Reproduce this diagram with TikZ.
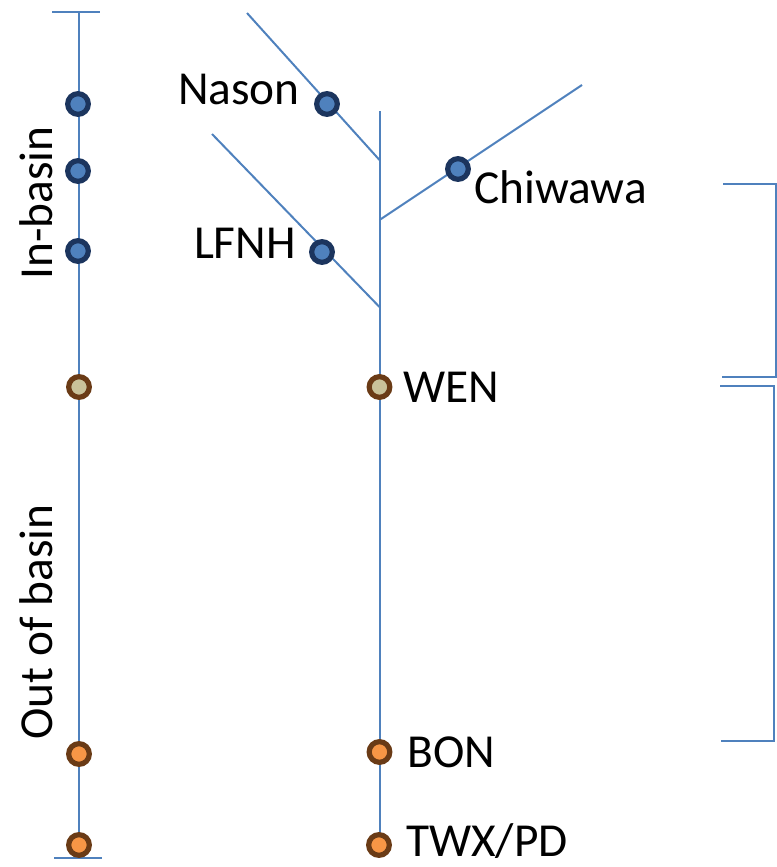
\documentclass[tikz,border=0pt]{standalone}
\usepackage{fontspec}
\setmainfont{Carlito}
\definecolor{riverblue}{HTML}{4F81BD}
\definecolor{navyring}{HTML}{1C355E}
\definecolor{brownring}{HTML}{6A3B16}
\definecolor{tanfill}{HTML}{C9C29A}
\definecolor{orangefill}{HTML}{F79646}
\tikzset{
  river/.style={draw=riverblue, line width=1.5pt},
  brace/.style={draw=riverblue, line width=1.7pt},
  site/.style={circle, inner sep=0pt, minimum size=15.5pt, line width=3.9pt},
  upsite/.style={site, draw=navyring, fill=riverblue},
  wensite/.style={site, draw=brownring, fill=tanfill},
  downsite/.style={site, draw=brownring, fill=orangefill},
  lbl/.style={inner sep=0pt, font=\fontsize{35.5}{41}\selectfont}
}
\begin{document}
\begin{tikzpicture}[x=0.75pt, y=-0.75pt]
\useasboundingbox (0,0) rectangle (777,867);

% left-hand scale: axis with end ticks
\coordinate (axTop) at (79,12);
\coordinate (axBot) at (79,858);
\coordinate (tkTL) at (52,12);
\coordinate (tkTR) at (100,12);
\coordinate (tkBL) at (54,858);
\coordinate (tkBR) at (102,858);
\draw[river] (axTop) -- (axBot);
\draw[river] (tkTL) -- (tkTR);
\draw[river] (tkBL) -- (tkBR);

% river network
\coordinate (mainTop) at (379.5,111);
\coordinate (mainBot) at (379.5,845);
\coordinate (jNason) at (379.5,160);
\coordinate (jChiw) at (379.5,220);
\coordinate (jLfnh) at (379.5,307);
\coordinate (nasonEnd) at (247,13);
\coordinate (lfnhEnd) at (212,134);
\coordinate (chiwEnd) at (582,85);
\draw[river] (mainTop) -- (mainBot);
\draw[river] (nasonEnd) -- (jNason);
\draw[river] (lfnhEnd) -- (jLfnh);
\draw[river] (jChiw) -- (chiwEnd);

% brackets on the right
\coordinate (b1a) at (723,184);
\coordinate (b1b) at (776,184);
\coordinate (b1c) at (776,377);
\coordinate (b1d) at (722,377);
\coordinate (b2a) at (720,386);
\coordinate (b2b) at (774,386);
\coordinate (b2c) at (774,741);
\coordinate (b2d) at (721,741);
\draw[brace] (b1a) -- (b1b) -- (b1c) -- (b1d);
\draw[brace] (b2a) -- (b2b) -- (b2c) -- (b2d);

% sites on the left axis
\node[upsite] (l1) at (78,104) {};
\node[upsite] (l2) at (78,171) {};
\node[upsite] (l3) at (78,251) {};
\node[wensite] (l4) at (79,387) {};
\node[downsite] (l5) at (79,754) {};
\node[downsite] (l6) at (79,845) {};

% sites on the network
\node[upsite] (nason) at (327,104) {};
\node[upsite] (chiwawa) at (458,169) {};
\node[upsite] (lfnh) at (322,252) {};
\node[wensite] (wen) at (379.5,387) {};
\node[downsite] (bon) at (379.5,752) {};
\node[downsite] (twx) at (379,845) {};

% site names
\node[lbl, anchor=base east] (tNason) at (300,104) {Nason};
\node[lbl, anchor=base west] (tChiw) at (474,203) {Chiwawa};
\node[lbl, anchor=base east] (tLfnh) at (296,258) {LFNH};
\node[lbl, anchor=base west] (tWen) at (403,402) {WEN};
\node[lbl, anchor=base west] (tBon) at (407,767) {BON};
\node[lbl, anchor=base west] (tTwx) at (406,856) {TWX/PD};

% region labels
\node[lbl, rotate=90] (inb) at (36,203) {In-basin};
\node[lbl, rotate=90] (outb) at (36,622) {Out of basin};
\end{tikzpicture}
\end{document}
